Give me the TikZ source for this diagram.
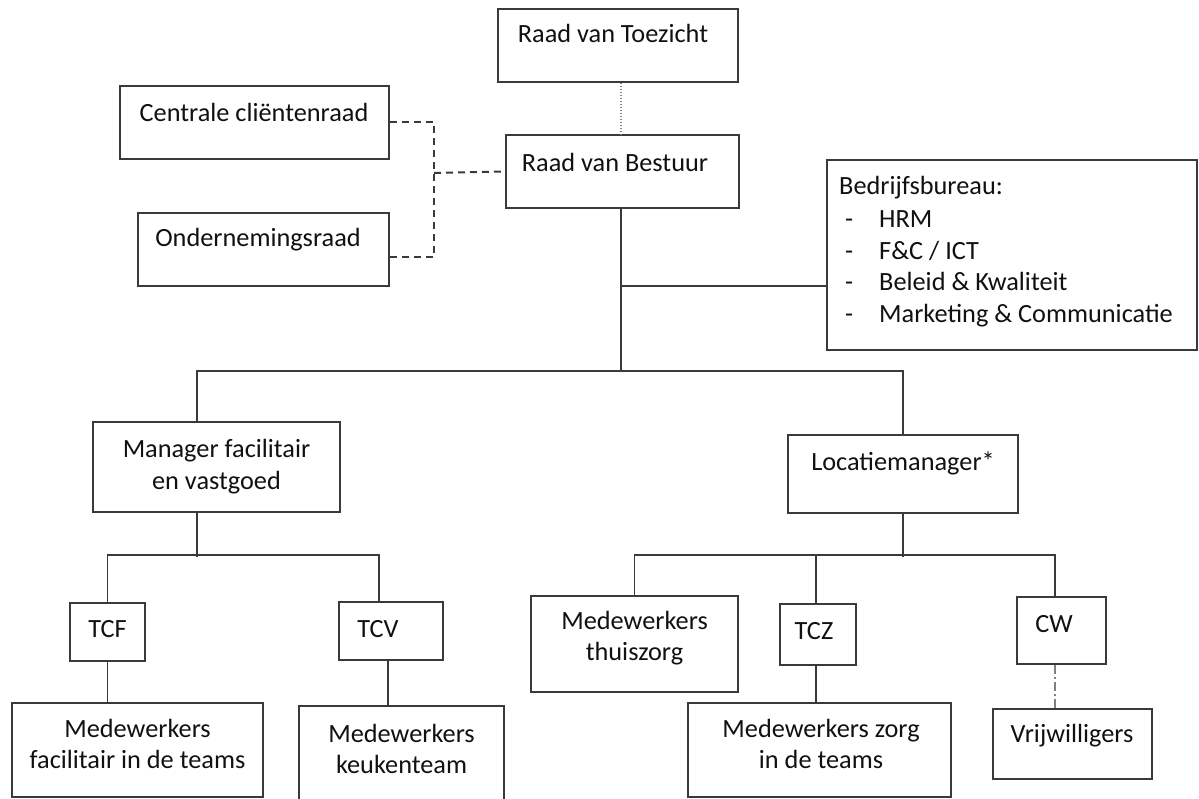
\documentclass[tikz,border=0pt]{standalone}
\usepackage{fontspec}
\setmainfont{Carlito}
\usetikzlibrary{fit,calc}
\definecolor{linec}{HTML}{3A3A3A}
\definecolor{txtc}{HTML}{111111}
\tikzset{
  box/.style={draw=linec, line width=1.6pt, rectangle, inner sep=0pt, fill=white},
  txt/.style={anchor=base, inner sep=0pt, text=txtc, font=\fontsize{26.3}{30}\selectfont},
  txtl/.style={txt, anchor=base west},
  conn/.style={draw=linec, line width=1.6pt},
  dashconn/.style={draw=linec, line width=2pt, dash pattern=on 7pt off 5pt},
  dotconn/.style={draw=gray, line width=1.3pt, dash pattern=on 1.5pt off 1.5pt},
  dashdotconn/.style={draw=gray, line width=1.5pt, dash pattern=on 9pt off 3pt on 2pt off 3pt}
}
\begin{document}
\begin{tikzpicture}[x=1pt,y=-1pt]
\path[fill=white] (0,0) rectangle (1199,799);
\useasboundingbox (0,0) rectangle (1199,799);

% boxes
\node[box, fit={(498,9) (738,82)}] (rvt) {};
\node[box, fit={(506,135) (739,208)}] (rvb) {};
\node[box, fit={(120,86) (389,159)}] (cc) {};
\node[box, fit={(138,213) (389,286)}] (or) {};
\node[box, fit={(827,160) (1197,350)}] (bb) {};
\node[box, fit={(93,422) (340,512)}] (mfv) {};
\node[box, fit={(788,435) (1018,513)}] (loc) {};
\node[box, fit={(70,603) (145,661)}] (tcf) {};
\node[box, fit={(339,602) (443,660)}] (tcv) {};
\node[box, fit={(12,703) (263,797)}] (mft) {};
\node[box, fit={(299,706) (504,803)}] (keu) {};
\node[box, fit={(531,596) (738,692)}] (thz) {};
\node[box, fit={(780,604) (856,665)}] (tcz) {};
\node[box, fit={(688,703) (951,797)}] (mzt) {};
\node[box, fit={(1017,597) (1106,664)}] (cw) {};
\node[box, fit={(993,709) (1152,779)}] (vrw) {};

% texts
\node[txt] (rvt-t) at (613,43) {Raad van Toezicht};
\node[txt] (rvb-t) at (615,172) {Raad van Bestuur};
\node[txt] (cc-t) at (254,122) {Centrale cliëntenraad};
\node[txt] (or-t) at (258,247) {Ondernemingsraad};
\node[txtl] (bb-t) at (839,195) {Bedrijfsbureau:};
\node[txtl] (bb-d1) at (845,228) {-};
\node[txtl] (bb-i1) at (879,228) {HRM};
\node[txtl] (bb-d2) at (845,260) {-};
\node[txtl] (bb-i2) at (879,260) {F\&C / ICT};
\node[txtl] (bb-d3) at (845,291) {-};
\node[txtl] (bb-i3) at (879,291) {Beleid \& Kwaliteit};
\node[txtl] (bb-d4) at (845,323) {-};
\node[txtl] (bb-i4) at (879,323) {Marketing \& Communicatie};
\node[txt] (mfv-t1) at (216.5,457) {Manager facilitair};
\node[txt] (mfv-t2) at (216.5,489) {en vastgoed};
\node[txt] (loc-t) at (903,470) {Locatiemanager*};
\node[txt] (tcf-t) at (107.5,637) {TCF};
\node[txt] (tcv-t) at (378,637) {TCV};
\node[txt] (mft-t1) at (137.5,737) {Medewerkers};
\node[txt] (mft-t2) at (137.5,768) {facilitair in de teams};
\node[txt] (keu-t1) at (401.5,742) {Medewerkers};
\node[txt] (keu-t2) at (401.5,773) {keukenteam};
\node[txt] (thz-t1) at (634.5,629) {Medewerkers};
\node[txt] (thz-t2) at (634.5,660) {thuiszorg};
\node[txt] (tcz-t) at (814,639) {TCZ};
\node[txt] (mzt-t1) at (821,737) {Medewerkers zorg};
\node[txt] (mzt-t2) at (821,768) {in de teams};
\node[txt] (cw-t) at (1054,632) {CW};
\node[txt] (vrw-t) at (1072,742) {Vrijwilligers};

% attachment coordinates
\coordinate (rvbb) at ($(rvb.south)+(-1.5,0)$);
\coordinate (bus) at ($(rvbb)+(0,162)$);
\coordinate (mfvt) at ($(mfv.north)+(-19.5,0)$);
\coordinate (mfvb) at ($(mfv.south)+(-19.5,0)$);
\coordinate (tcvt) at ($(tcv.north)+(-12,0)$);
\coordinate (tcvb) at ($(tcv.south)+(-3,0)$);
\coordinate (tczt) at ($(tcz.north)+(-2,0)$);
\coordinate (tczb) at ($(tcz.south)+(-2,0)$);
\coordinate (cwt) at ($(cw.north)+(-6.5,0)$);
\coordinate (cwb) at ($(cw.south)+(-6.5,0)$);
\coordinate (dj) at (434,173);
\coordinate (orc) at ($(or.east)+(0,7.5)$);
\coordinate (bbc) at ($(bb.west)+(0,31)$);

% connectors
\draw[dotconn] (rvbb |- rvt.south) -- (rvbb |- rvb.north);
\draw[dashconn] (cc.east) -| (dj) |- (orc);
\draw[dashconn] (dj) -- (rvb.west);
\draw[conn] (rvbb) -- (bus);
\draw[conn] (rvbb |- bbc) -- (bbc);
\draw[conn] (mfvt) -- (mfvt |- bus) -| (loc.north);
\draw[conn] (mfvb) -- ($(mfvb)+(0,44)$);
\draw[conn] (tcf.north) |- ($(tcvt)+(0,-46)$) -- (tcvt);
\draw[conn] (tcf.south) -- (tcf.south |- mft.north);
\draw[conn] (tcvb) -- (tcvb |- keu.north);
\draw[conn] (loc.south) -- ($(loc.south)+(0,43)$);
\draw[conn] (thz.north) |- ($(cwt)+(0,-41)$) -- (cwt);
\draw[conn] (tczt) -- ($(tczt)+(0,-48)$);
\draw[conn] (tczb) -- (tczb |- mzt.north);
\draw[dashdotconn] (cwb) -- (cwb |- vrw.north);
\end{tikzpicture}
\end{document}
